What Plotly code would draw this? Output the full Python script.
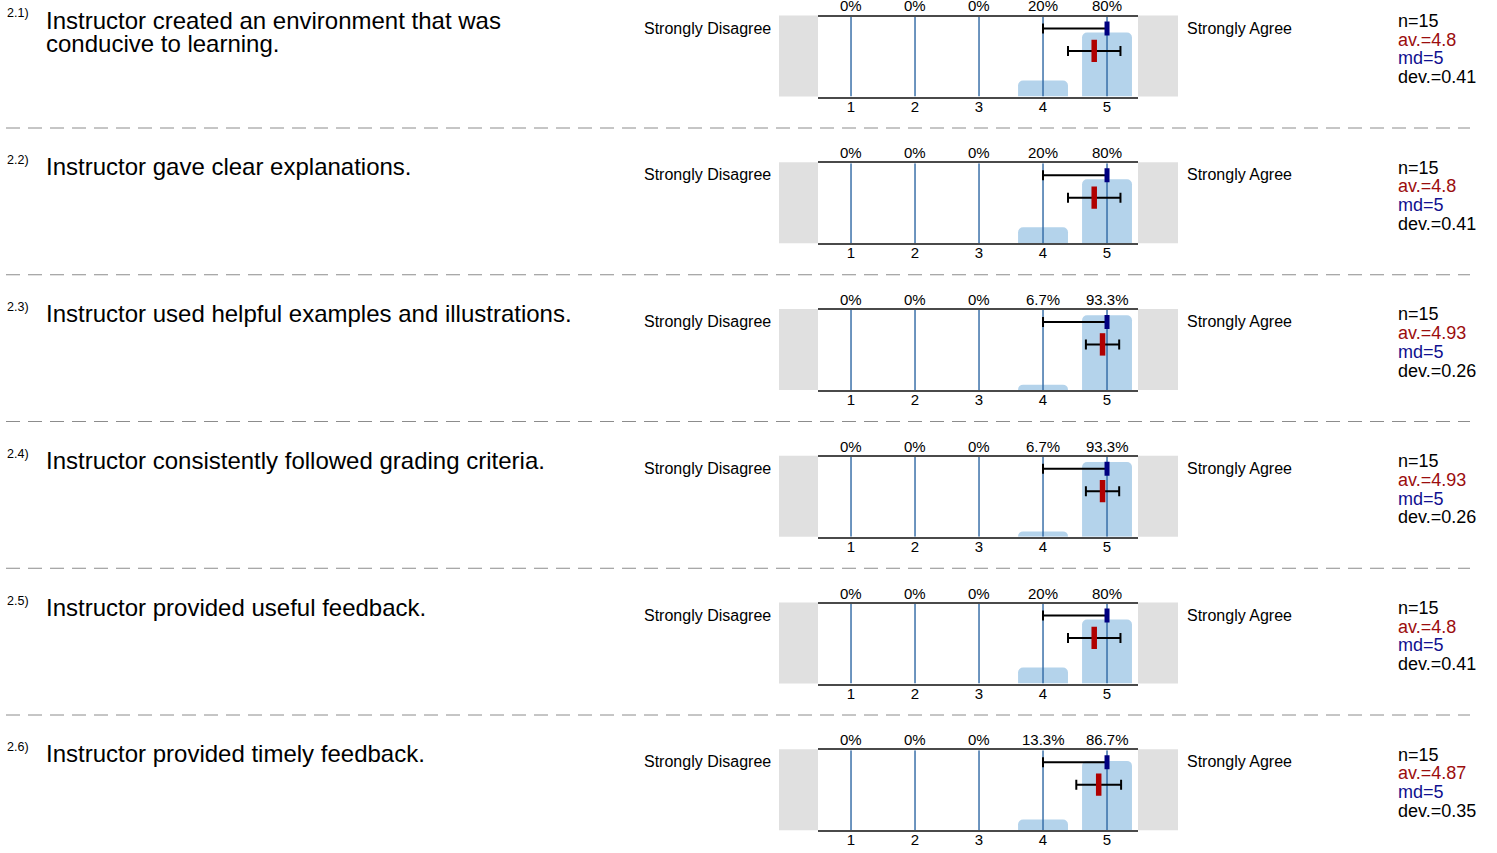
import plotly.graph_objects as go

numbers = ["2.1)", "2.2)", "2.3)", "2.4)", "2.5)", "2.6)"]
questions = [
    "Instructor created an environment that was<br>conducive to learning.",
    "Instructor gave clear explanations.",
    "Instructor used helpful examples and illustrations.",
    "Instructor consistently followed grading criteria.",
    "Instructor provided useful feedback.",
    "Instructor provided timely feedback.",
]
scale = [1, 2, 3, 4, 5]
tick_labels = ["1", "2", "3", "4", "5"]
pct = [
    [0, 0, 0, 20, 80],
    [0, 0, 0, 20, 80],
    [0, 0, 0, 6.7, 93.3],
    [0, 0, 0, 6.7, 93.3],
    [0, 0, 0, 20, 80],
    [0, 0, 0, 13.3, 86.7],
]
n_resp = [15, 15, 15, 15, 15, 15]
av = [4.8, 4.8, 4.93, 4.93, 4.8, 4.87]
md = [5, 5, 5, 5, 5, 5]
dev = [0.41, 0.41, 0.26, 0.26, 0.41, 0.35]
range_low = [4, 4, 4, 4, 4, 4]
left_label = "Strongly Disagree"
right_label = "Strongly Agree"

W, H = 1497, 853
PITCH = 146.75
TOP0, BOT0 = 16.5, 96.5
X0, X1 = 818, 1138
FONT = "Liberation Sans, Arial, sans-serif"

BAR = "#b4d3eb"
GRID = "#2e67a3"
AXIS = "#4a4a4a"
GREY = "#e0e0e0"

def px(x):
    return x / W

def py(y):
    return 1 - y / H

fig = go.Figure()
layout = dict(
    width=W, height=H, margin=dict(l=0, r=0, t=0, b=0),
    paper_bgcolor="white", plot_bgcolor="white", showlegend=False,
    font=dict(family=FONT, color="black"),
)
shapes, annotations = [], []

for i in range(6):
    k = "" if i == 0 else str(i + 1)
    top = TOP0 + i * PITCH
    bot = BOT0 + i * PITCH
    xa, ya = "x" + k, "y" + k
    layout["xaxis" + k] = dict(
        domain=[px(X0), px(X1)], range=[0.484, 5.484], anchor=ya,
        tickvals=scale, ticktext=tick_labels, ticks="", showgrid=False,
        zeroline=False, showline=True, mirror=True, linecolor=AXIS, linewidth=2,
        tickfont=dict(size=15, family=FONT, color="black"), fixedrange=True,
        ticklabelstandoff=-5,
    )
    layout["yaxis" + k] = dict(
        domain=[py(bot), py(top)], range=[0, 1], anchor=xa, showgrid=False,
        zeroline=False, showline=False, showticklabels=False, fixedrange=True,
    )
    # bars
    fig.add_trace(go.Bar(
        x=scale, y=[v / 100 for v in pct[i]], width=0.78, marker_color=BAR,
        marker_line_width=0, xaxis=xa, yaxis=ya,
    ))
    # grid lines above bars
    gx, gy = [], []
    for s in scale:
        gx += [s, s, None]
        gy += [0, 1, None]
    fig.add_trace(go.Scatter(x=gx, y=gy, mode="lines",
                             line=dict(color=GRID, width=1.4), xaxis=xa, yaxis=ya,
                             hoverinfo="skip"))
    # median range line
    fig.add_trace(go.Scatter(
        x=[md[i]], y=[0.85], mode="markers",
        marker=dict(symbol="line-ns-open", size=10, color="#000080",
                    line=dict(width=5, color="#000080")),
        error_x=dict(type="data", symmetric=False, array=[0],
                     arrayminus=[md[i] - range_low[i]], color="black",
                     thickness=2, width=5),
        xaxis=xa, yaxis=ya,
    ))
    # mean +- dev
    fig.add_trace(go.Scatter(
        x=[av[i]], y=[0.57], mode="markers",
        marker=dict(symbol="line-ns-open", size=16, color="#b00000",
                    line=dict(width=5.5, color="#b00000")),
        error_x=dict(type="data", symmetric=True, array=[dev[i]], color="black",
                     thickness=2, width=5),
        xaxis=xa, yaxis=ya,
    ))
    # grey side boxes
    for a, b in [(779, X0), (X1, 1178)]:
        shapes.append(dict(type="rect", xref="paper", yref="paper",
                           x0=px(a), x1=px(b), y0=py(bot), y1=py(top - 1),
                           fillcolor=GREY, line_width=0, layer="below"))
    # percentages
    for s, v in zip(scale, pct[i]):
        annotations.append(dict(x=s, y=1, xref=xa, yref=ya + " domain",
                                text=f"{v:g}%", showarrow=False, yanchor="bottom",
                                yshift=0, font=dict(size=15, family=FONT)))
    # labels
    annotations.append(dict(x=px(773), y=py(top + 11.5), xref="paper", yref="paper",
                            text=left_label, showarrow=False, xanchor="right",
                            yanchor="middle", font=dict(size=16, family=FONT)))
    annotations.append(dict(x=px(1185), y=py(top + 11.5), xref="paper", yref="paper",
                            text=right_label, showarrow=False, xanchor="left",
                            yanchor="middle", font=dict(size=16, family=FONT)))
    annotations.append(dict(x=px(5), y=py(top - 3), xref="paper", yref="paper",
                            text=numbers[i], showarrow=False, xanchor="left",
                            yanchor="middle", font=dict(size=12.5, family=FONT)))
    for j, line in enumerate(questions[i].split("<br>")):
        annotations.append(dict(x=px(44), y=py(top + 3.5 + j * 23.5), xref="paper",
                                yref="paper", text=line, showarrow=False,
                                xanchor="left", yanchor="middle",
                                font=dict(size=24, family=FONT)))
    stats = [(f"n={n_resp[i]}", "black"), (f"av.={av[i]:g}", "#9b0d0d"),
             (f"md={md[i]:g}", "#10108f"), (f"dev.={dev[i]:g}", "black")]
    for j, (t, c) in enumerate(stats):
        annotations.append(dict(x=px(1396), y=py(top + 4.5 + j * 18.7), xref="paper",
                                yref="paper", text=t, showarrow=False, xanchor="left",
                                yanchor="middle", font=dict(size=18, family=FONT, color=c)))
    if i < 5:
        shapes.append(dict(type="line", xref="paper", yref="paper",
                           x0=px(6), x1=px(1470), y0=py(bot + 31.5), y1=py(bot + 31.5),
                           line=dict(color="#8c8c8c", width=1, dash="14px,8px")))

layout["shapes"] = shapes
layout["annotations"] = annotations
layout["barcornerradius"] = 5
fig.update_layout(**layout)
fig.write_html(
    "out.html",
    config={"displayModeBar": False},
    post_script="document.body.style.margin='0';document.body.style.overflow='hidden';",
)
